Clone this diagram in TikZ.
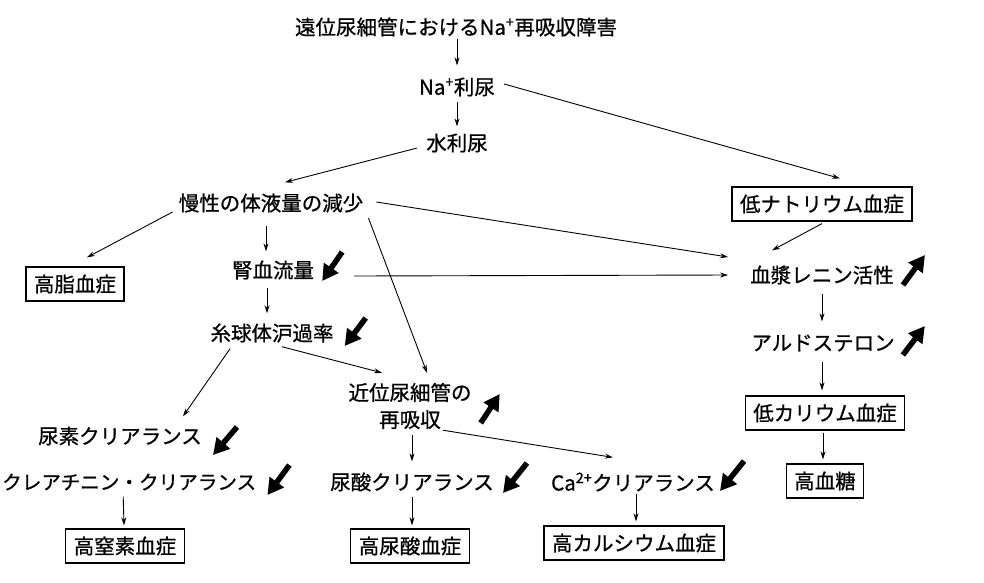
\documentclass[tikz,border=0pt]{standalone}
\usepackage{fontspec}
\setmainfont{Noto Sans CJK JP}[BoldFont={Noto Sans CJK JP}, BoldFeatures={FakeBold=0.8}]
\usetikzlibrary{arrows.meta,calc}
\begin{document}
\begin{tikzpicture}[x=1pt,y=-1pt,
  every node/.style={font=\fontsize{20.5}{27}\selectfont\bfseries, inner sep=0pt},
  box/.style={draw, line width=1.3pt, inner xsep=8pt, inner ysep=7.5pt},
  arr/.style={-{Stealth[length=8pt,width=5pt]}, line width=0.9pt},
  bigarr/.style={line width=5.5pt, -{Triangle[length=16pt,width=17pt]}}
]
\path[use as bounding box] (0,0) rectangle (984,582);
\clip (0,0) rectangle (984,582);

% text nodes
\node (top) at (456,27) {遠位尿細管におけるNa\textsuperscript{+}再吸収障害};
\node (na) at (457,87) {Na\textsuperscript{+}利尿};
\node (water) at (457,143) {水利尿};
\node (mansei) at (271,203) {慢性の体液量の減少};
\node[box] (hypona) at (822,204) {低ナトリウム血症};
\node[box] (hyperlip) at (75,284) {高脂血症};
\node (jin) at (273,270) {腎血流量};
\node (renin) at (822,275) {血漿レニン活性};
\node (gfr) at (272,333) {糸球体沪過率};
\node[align=center] (kinni) at (410,406) {近位尿細管の\\再吸収};
\node (ald) at (823,343) {アルドステロン};
\node[box] (hypok) at (825,413) {低カリウム血症};
\node[box] (hypergly) at (825,481) {高血糖};
\node (urea) at (120,436) {尿素クリアランス};
\node[anchor=west, font=\fontsize{19.6}{24}\selectfont\bfseries] (creat) at (2,482) {クレアチニン・クリアランス};
\node (uric) at (412,482) {尿酸クリアランス};
\node (ca) at (633,482) {Ca\textsuperscript{2+}クリアランス};
\node[box] (azot) at (125,546) {高窒素血症};
\node[box] (hyperuric) at (410,546) {高尿酸血症};
\node[box] (hypercal) at (634,543) {高カルシウム血症};

% connectors
\draw[arr] ($(top.south)+(1,2)$) -- ($(na.north)+(0,-12)$);
\draw[arr] ($(na.south)+(0,5)$) -- ($(water.north)+(0,-7)$);
\draw[arr] ($(water.west)+(-9,5)$) -- ($(mansei.north)+(14,-11)$);
\draw[arr] ($(na.east)+(9,-3)$) -- ($(hypona.north)+(18,-8)$);
\draw[arr] ($(mansei.west)+(-6,9)$) -- ($(hyperlip.north)+(12,-9)$);
\draw[arr] ($(mansei.south)+(-5,13)$) -- ($(jin.north)+(-7,-9)$);
\draw[arr] ($(mansei.east)+(13,-1)$) -- ($(renin.west)+(-22,-18)$);
\draw[arr] ($(jin.east)+(40,6)$) -- ($(renin.west)+(-22,0)$);
\draw[arr] ($(mansei.east)+(5,15)$) -- ($(kinni.north)+(17,-10)$);
\draw[arr] ($(hypona.south)+(0,2)$) -- ($(renin.north)+(-50,-15)$);
\draw[arr] ($(renin.south)+(0,9)$) -- ($(ald.north)+(-1,-13)$);
\draw[arr] ($(ald.south)+(-1,10)$) -- ($(hypok.north)+(-3,-5)$);
\draw[arr] ($(hypok.south)+(-2,2)$) -- ($(hypergly.north)+(-2,-4)$);
\draw[arr] ($(jin.south)+(-6,8)$) -- ($(gfr.north)+(-5,-10)$);
\draw[arr] ($(gfr.south)+(-42,6)$) -- ($(urea.north)+(63,-10)$);
\draw[arr] ($(gfr.south)+(10,4)$) -- ($(kinni.north)+(-28,-10)$);
\draw[arr] ($(kinni.south)+(33,1)$) -- ($(ca.north)+(-20,-15)$);
\draw[arr] ($(kinni.south)+(2,6)$) -- ($(uric.north)+(0,-11)$);
\draw[arr] ($(creat.south)+(-6,6)$) -- ($(azot.north)+(-1,-3)$);
\draw[arr] ($(uric.south)+(0,5)$) -- ($(hyperuric.north)+(2,-3)$);
\draw[arr] ($(ca.south)+(3,2)$) -- ($(hypercal.north)+(2,-4)$);

% bold trend arrows
\draw[bigarr] ($(jin.east)+(28,-18)$) -- ($(jin.east)+(8,11)$);
\draw[bigarr] ($(gfr.east)+(32,-15)$) -- ($(gfr.east)+(11,13)$);
\draw[bigarr] ($(renin.east)+(9,10)$) -- ($(renin.east)+(31,-20)$);
\draw[bigarr] ($(ald.east)+(8,12)$) -- ($(ald.east)+(30,-17)$);
\draw[bigarr] ($(kinni.east)+(9,17)$) -- ($(kinni.east)+(28,-12)$);
\draw[bigarr] ($(urea.east)+(35,-9)$) -- ($(urea.east)+(11,19)$);
\draw[bigarr] ($(creat.east)+(33,-17)$) -- ($(creat.east)+(11,13)$);
\draw[bigarr] ($(uric.east)+(33,-19)$) -- ($(uric.east)+(9,11)$);
\draw[bigarr] ($(ca.east)+(29,-21)$) -- ($(ca.east)+(5,9)$);
\end{tikzpicture}
\end{document}
